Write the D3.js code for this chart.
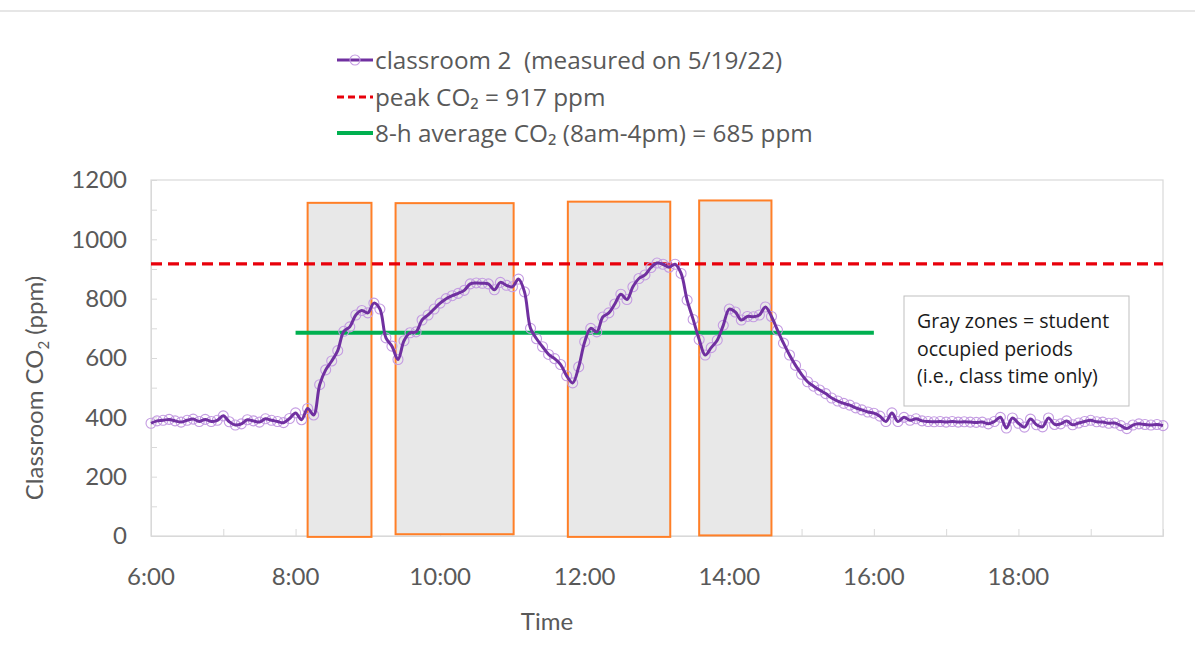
<!DOCTYPE html>
<html>
<head>
<meta charset="utf-8">
<script src="https://cdn.jsdelivr.net/npm/d3@7"></script>
<style>
  html, body { margin: 0; padding: 0; background: #fff; }
  svg { display: block; }
  text { white-space: pre; }
</style>
</head>
<body>
<svg id="chart" width="1195" height="655"></svg>
<script>
// ---------------- DATA ----------------
const startTime = "6:00";
const stepMinutes = 5;
// CO2 readings (ppm), classroom 2, every 5 minutes from 6:00 to 20:00
const co2Values = [
  380, 388, 390, 393, 388, 384, 390, 394, 386, 393, 386, 390,   // 6:00-6:55
  405, 385, 374, 378, 392, 388, 384, 395, 390, 386, 382, 396,   // 7:00-7:55
  415, 392, 430, 408, 510, 560, 590, 625, 690, 705, 745, 760,   // 8:00-8:55
  752, 785, 765, 668, 640, 595, 658, 685, 688, 728, 745, 765,   // 9:00-9:55
  785, 800, 810, 818, 828, 850, 853, 852, 850, 830, 855, 845,   // 10:00-10:55
  840, 866, 823, 700, 665, 638, 612, 598, 578, 540, 516, 570,   // 11:00-11:55
  655, 700, 688, 738, 752, 782, 815, 797, 840, 868, 880, 905,   // 12:00-12:55
  920, 916, 906, 916, 885, 795, 730, 662, 610, 635, 660, 710,   // 13:00-13:55
  765, 755, 728, 740, 739, 745, 772, 740, 694, 650, 610, 575,   // 14:00-14:55
  545, 520, 505, 492, 480, 465, 455, 447, 441, 432, 425, 418,   // 15:00-15:55
  414, 404, 386, 415, 386, 400, 390, 395, 388, 386, 385, 386,   // 16:00-16:55
  384, 386, 384, 385, 384, 383, 384, 378, 386, 400, 364, 398,   // 17:00-17:55
  380, 367, 394, 375, 368, 398, 376, 378, 388, 375, 381, 386,   // 18:00-18:55
  390, 385, 384, 380, 381, 372, 362, 374, 378, 376, 374, 376,   // 19:00-19:55
  372                                                            // 20:00
];
const peakCO2 = 917;
const avgCO2 = 685;
const avgStart = "8:00", avgEnd = "16:00";
// occupied (class) periods
const zoneStart  = ["8:10", "9:23", "11:46", "13:35"];
const zoneEnd    = ["9:03", "11:01", "13:11", "14:35"];
const zoneTop    = [1123, 1122, 1127, 1131];
const zoneBottom = [-3, 6, -3, 2];
const xTickLabels = ["6:00", "8:00", "10:00", "12:00", "14:00", "16:00", "18:00"];
const yTickValues = [0, 200, 400, 600, 800, 1000, 1200];
const legendLabels = [
  "classroom 2  (measured on 5/19/22)",
  "peak CO\u2082 = 917 ppm",
  "8-h average CO\u2082 (8am-4pm) = 685 ppm"
];
const noteLines = ["Gray zones = student", "occupied periods", "(i.e., class time only)"];

// ---------------- HELPERS ----------------
const toH = s => { const [h, m] = s.split(":").map(Number); return h + m / 60; };
const t0 = toH(startTime);
const series = co2Values.map((v, i) => ({ t: t0 + i * stepMinutes / 60, v }));

// ---------------- LAYOUT ----------------
const svg = d3.select("#chart");
const L = 151, R = 1163, T = 180, B = 536;
const x = d3.scaleLinear().domain([6, 20]).range([L, R]);
const y = d3.scaleLinear().domain([0, 1200]).range([B, T]);
const FONT = "'Open Sans', 'Noto Sans', sans-serif";
const TICKFONT = "Lato, 'Open Sans', sans-serif";

// top separator line
svg.append("rect").attr("x", 0).attr("y", 10).attr("width", 1195).attr("height", 2).attr("fill", "#e6e6e6");

// plot frame
svg.append("rect").attr("x", L).attr("y", T).attr("width", R - L).attr("height", B - T)
  .attr("fill", "none").attr("stroke", "#d9d9d9").attr("stroke-width", 1.2);

// axes with inward ticks
const yAxis = d3.axisLeft(y).tickValues(d3.range(0, 1201, 100)).tickSize(-6).tickFormat("");
const gy = svg.append("g").attr("transform", `translate(${L},0)`).call(yAxis);
gy.select(".domain").attr("stroke", "#d9d9d9");
gy.selectAll(".tick line").attr("stroke", "#d9d9d9");

const xAxis = d3.axisBottom(x).tickValues(d3.range(7, 20, 1)).tickSize(-7).tickFormat("");
const gx = svg.append("g").attr("transform", `translate(0,${B})`).call(xAxis);
gx.select(".domain").attr("stroke", "#d9d9d9");
gx.selectAll(".tick line").attr("stroke", "#d9d9d9");

// y tick labels
svg.append("g").selectAll("text").data(yTickValues).join("text")
  .attr("x", 127).attr("y", d => y(d)).attr("dy", "0.35em")
  .attr("text-anchor", "end").attr("font-family", TICKFONT).attr("font-size", 24)
  .attr("fill", "#595959").text(d => d);

// x tick labels
svg.append("g").selectAll("text").data(xTickLabels).join("text")
  .attr("x", d => x(toH(d))).attr("y", 585)
  .attr("text-anchor", "middle").attr("font-family", TICKFONT).attr("font-size", 24)
  .attr("fill", "#595959").text(d => d);

// axis titles
svg.append("text").attr("x", 547).attr("y", 630).attr("text-anchor", "middle")
  .attr("font-family", TICKFONT).attr("font-size", 24).attr("fill", "#595959").text("Time");

const yt = svg.append("text").attr("transform", "translate(43,388) rotate(-90)")
  .attr("text-anchor", "middle").attr("font-family", TICKFONT).attr("font-size", 24).attr("fill", "#595959");
yt.append("tspan").text("Classroom CO");
yt.append("tspan").attr("font-size", 15).attr("dy", 6).text("2");
yt.append("tspan").attr("dy", -6).text(" (ppm)");

// occupied zones
svg.append("g").selectAll("rect").data(zoneStart).join("rect")
  .attr("x", (d, i) => x(toH(d)))
  .attr("y", (d, i) => y(zoneTop[i]))
  .attr("width", (d, i) => x(toH(zoneEnd[i])) - x(toH(d)))
  .attr("height", (d, i) => y(zoneBottom[i]) - y(zoneTop[i]))
  .attr("fill", "#e8e8e8").attr("stroke", "#ff7f27").attr("stroke-width", 2);

// peak line
svg.append("line").attr("x1", x(6)).attr("x2", x(20)).attr("y1", y(peakCO2)).attr("y2", y(peakCO2))
  .attr("stroke", "#e8000b").attr("stroke-width", 3.2).attr("stroke-dasharray", "11,6");

// average line
svg.append("line").attr("x1", x(toH(avgStart))).attr("x2", x(toH(avgEnd)))
  .attr("y1", y(avgCO2)).attr("y2", y(avgCO2))
  .attr("stroke", "#00b050").attr("stroke-width", 4);

// markers
svg.append("g").selectAll("circle").data(series).join("circle")
  .attr("cx", d => x(d.t)).attr("cy", d => y(d.v)).attr("r", 5)
  .attr("fill", "none").attr("stroke", "#c49ce2").attr("stroke-width", 1.1);

// data line
const line = d3.line().x(d => x(d.t)).y(d => y(d.v)).curve(d3.curveCatmullRom.alpha(0.5));
svg.append("path").datum(series).attr("d", line)
  .attr("fill", "none").attr("stroke", "#7030a0").attr("stroke-width", 3);

// note box
const nb = svg.append("g");
nb.append("rect").attr("x", 904).attr("y", 296).attr("width", 225).attr("height", 110)
  .attr("fill", "#fff").attr("stroke", "#bfbfbf").attr("stroke-width", 1);
nb.selectAll("text").data(noteLines).join("text")
  .attr("x", 917).attr("y", (d, i) => 328 + i * 27.5)
  .attr("font-family", FONT).attr("font-size", 19.5).attr("fill", "#1a1a1a").text(d => d);

// legend
const lg = svg.append("g");
const rowsY = [60, 97, 133];
lg.append("line").attr("x1", 337).attr("x2", 373).attr("y1", rowsY[0]).attr("y2", rowsY[0])
  .attr("stroke", "#7030a0").attr("stroke-width", 3);
lg.append("circle").attr("cx", 355).attr("cy", rowsY[0]).attr("r", 5)
  .attr("fill", "none").attr("stroke", "#c49ce2").attr("stroke-width", 1.1);
lg.append("line").attr("x1", 337).attr("x2", 373).attr("y1", rowsY[1]).attr("y2", rowsY[1])
  .attr("stroke", "#e8000b").attr("stroke-width", 3.2).attr("stroke-dasharray", "7,4");
lg.append("line").attr("x1", 337).attr("x2", 373).attr("y1", rowsY[2]).attr("y2", rowsY[2])
  .attr("stroke", "#00b050").attr("stroke-width", 4);
lg.selectAll("text").data(legendLabels).join("text")
  .attr("x", 375).attr("y", (d, i) => rowsY[i]).attr("dy", "0.35em")
  .attr("font-family", FONT).attr("font-size", 24.3).attr("fill", "#595959").text(d => d);
</script>
</body>
</html>
